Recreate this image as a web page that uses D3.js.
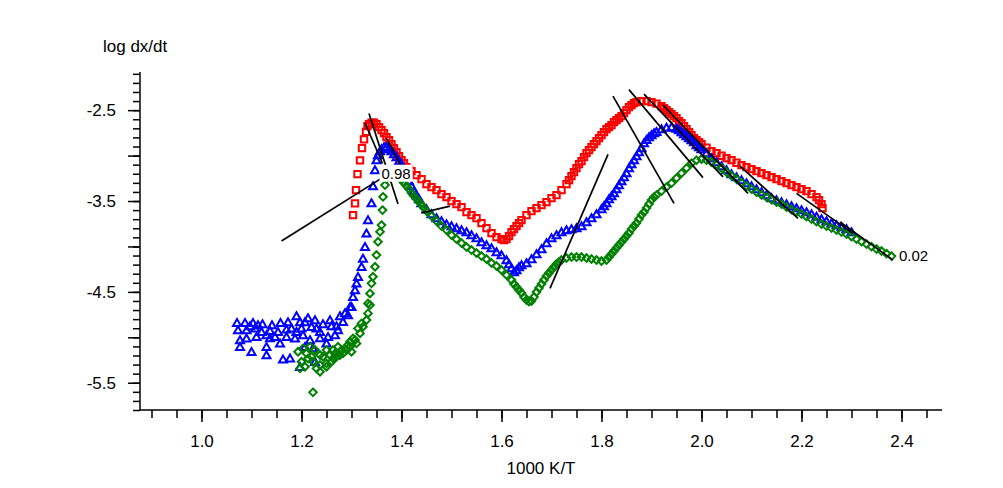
<!DOCTYPE html>
<html><head><meta charset="utf-8">
<script src="https://cdn.jsdelivr.net/npm/d3@7"></script>
<style>body{margin:0;background:#fff}svg{display:block}text{font-family:"Liberation Sans",Arial,sans-serif;fill:#000}</style>
</head><body>
<svg id="c" width="1003" height="488"></svg>
<script>
// ---- data (x = 1000 K/T, y = log dx/dt) ----
const redPoints = [[1.303,-3.655],[1.307,-3.526],[1.309,-3.380],[1.312,-3.204],[1.317,-3.053],[1.321,-2.918],[1.325,-2.822],[1.329,-2.739],[1.332,-2.676],[1.335,-2.654],[1.34,-2.638],[1.345,-2.638],[1.35,-2.654],[1.355,-2.687],[1.36,-2.720],[1.365,-2.753],[1.37,-2.797],[1.375,-2.830],[1.38,-2.874],[1.385,-2.918],[1.39,-2.962],[1.395,-3.006],[1.40,-3.050],[1.405,-3.083],[1.41,-3.127],[1.415,-3.149],[1.42,-3.171],[1.43,-3.215],[1.44,-3.259],[1.45,-3.314],[1.46,-3.347],[1.47,-3.380],[1.48,-3.424],[1.49,-3.457],[1.50,-3.501],[1.51,-3.534],[1.52,-3.567],[1.53,-3.622],[1.54,-3.655],[1.55,-3.688],[1.56,-3.743],[1.57,-3.798],[1.58,-3.853],[1.59,-3.897],[1.60,-3.919],[1.605,-3.930],[1.61,-3.919],[1.615,-3.886],[1.62,-3.842],[1.625,-3.809],[1.63,-3.776],[1.635,-3.743],[1.64,-3.710],[1.65,-3.655],[1.66,-3.611],[1.67,-3.578],[1.68,-3.545],[1.69,-3.512],[1.70,-3.468],[1.71,-3.435],[1.72,-3.380],[1.73,-3.314],[1.735,-3.270],[1.74,-3.226],[1.745,-3.182],[1.75,-3.138],[1.755,-3.094],[1.76,-3.061],[1.765,-3.017],[1.77,-2.973],[1.775,-2.940],[1.78,-2.907],[1.785,-2.874],[1.79,-2.841],[1.795,-2.808],[1.80,-2.775],[1.805,-2.742],[1.81,-2.709],[1.815,-2.687],[1.82,-2.665],[1.825,-2.632],[1.83,-2.610],[1.835,-2.588],[1.84,-2.566],[1.845,-2.533],[1.85,-2.500],[1.855,-2.467],[1.86,-2.445],[1.865,-2.423],[1.87,-2.412],[1.88,-2.401],[1.89,-2.401],[1.90,-2.412],[1.91,-2.428],[1.92,-2.456],[1.925,-2.478],[1.93,-2.500],[1.935,-2.522],[1.94,-2.544],[1.945,-2.566],[1.95,-2.588],[1.955,-2.621],[1.96,-2.643],[1.965,-2.676],[1.97,-2.709],[1.975,-2.742],[1.98,-2.775],[1.985,-2.808],[1.99,-2.830],[1.995,-2.852],[2.00,-2.874],[2.01,-2.913],[2.02,-2.951],[2.03,-2.973],[2.04,-3.001],[2.05,-3.028],[2.06,-3.050],[2.07,-3.078],[2.08,-3.105],[2.09,-3.127],[2.10,-3.149],[2.11,-3.171],[2.12,-3.193],[2.13,-3.215],[2.14,-3.237],[2.15,-3.259],[2.16,-3.281],[2.17,-3.303],[2.18,-3.325],[2.19,-3.347],[2.20,-3.369],[2.21,-3.391],[2.22,-3.424],[2.23,-3.457],[2.235,-3.490],[2.24,-3.534],[2.242,-3.578]];

const bluePoints = [[1.071,-4.840],[1.087,-4.840],[1.103,-4.840],[1.122,-4.854],[1.158,-4.840],[1.190,-4.766],[1.073,-4.920],[1.090,-4.920],[1.107,-4.902],[1.120,-4.939],[1.137,-4.928],[1.153,-4.939],[1.170,-4.913],[1.180,-4.902],[1.200,-4.902],[1.220,-4.884],[1.230,-4.902],[1.243,-4.854],[1.260,-4.876],[1.270,-4.876],[1.277,-4.766],[1.283,-4.829],[1.293,-4.755],[1.300,-4.664],[1.077,-5.030],[1.090,-5.012],[1.110,-4.994],[1.130,-4.975],[1.147,-4.994],[1.170,-4.994],[1.187,-5.012],[1.203,-4.975],[1.217,-5.030],[1.237,-4.939],[1.253,-4.994],[1.267,-4.975],[1.077,-5.104],[1.100,-5.159],[1.130,-5.104],[1.130,-5.195],[1.157,-5.067],[1.163,-5.243],[1.177,-5.232],[1.250,-5.067],[1.207,-5.104],[1.197,-5.324],[1.227,-5.269],[1.190,-4.939],[1.097,-4.876],[1.113,-4.865],[1.141,-4.865],[1.173,-4.832],[1.207,-4.832],[1.227,-4.810],[1.257,-4.810],[1.137,-5.008],[1.237,-5.008],[1.223,-5.118],[1.273,-4.920],[1.197,-4.832],[1.213,-4.788],
[1.287,-4.733],[1.297,-4.664],[1.303,-4.554],[1.307,-4.480],[1.310,-4.406],[1.313,-4.334],[1.320,-4.224],[1.323,-4.132],[1.327,-4.004],[1.330,-3.856],[1.333,-3.710],[1.340,-3.523],[1.343,-3.336],[1.347,-3.160],[1.350,-3.050],[1.353,-2.995],[1.357,-2.951],
[1.36,-2.929],[1.365,-2.907],[1.37,-2.907],[1.375,-2.929],[1.38,-2.951],[1.385,-2.984],[1.39,-3.017],[1.395,-3.061],[1.40,-3.094],[1.405,-3.149],[1.41,-3.215],[1.415,-3.281],[1.42,-3.336],[1.425,-3.391],[1.43,-3.435],[1.435,-3.479],[1.44,-3.523],[1.45,-3.589],[1.46,-3.644],[1.47,-3.688],[1.48,-3.721],[1.49,-3.754],[1.50,-3.776],[1.51,-3.798],[1.52,-3.820],[1.53,-3.842],[1.54,-3.875],[1.55,-3.908],[1.56,-3.952],[1.57,-3.985],[1.58,-4.018],[1.59,-4.062],[1.60,-4.095],[1.61,-4.150],[1.615,-4.194],[1.62,-4.238],[1.625,-4.282],[1.63,-4.260],[1.635,-4.227],[1.64,-4.205],[1.65,-4.183],[1.66,-4.139],[1.67,-4.084],[1.68,-4.029],[1.69,-3.963],[1.70,-3.908],[1.71,-3.875],[1.72,-3.842],[1.73,-3.820],[1.74,-3.809],[1.75,-3.798],[1.76,-3.776],[1.77,-3.732],[1.78,-3.688],[1.79,-3.644],[1.80,-3.589],[1.805,-3.556],[1.81,-3.523],[1.815,-3.479],[1.82,-3.446],[1.825,-3.413],[1.83,-3.369],[1.835,-3.325],[1.84,-3.281],[1.845,-3.237],[1.85,-3.193],[1.855,-3.138],[1.86,-3.094],[1.865,-3.050],[1.87,-3.006],[1.875,-2.962],[1.88,-2.918],[1.885,-2.863],[1.89,-2.825],[1.895,-2.797],[1.90,-2.775],[1.905,-2.753],[1.91,-2.737],[1.92,-2.709],[1.93,-2.692],[1.94,-2.687],[1.95,-2.703],[1.955,-2.720],[1.96,-2.742],[1.965,-2.764],[1.97,-2.786],[1.975,-2.808],[1.98,-2.830],[1.985,-2.852],[1.99,-2.885],[1.995,-2.907],[2.00,-2.929],[2.01,-2.973],[2.02,-3.028],[2.03,-3.072],[2.04,-3.116],[2.05,-3.160],[2.06,-3.204],[2.07,-3.237],[2.08,-3.270],[2.09,-3.303],[2.10,-3.336],[2.11,-3.369],[2.12,-3.402],[2.13,-3.435],[2.14,-3.468],[2.15,-3.490],[2.16,-3.512],[2.17,-3.534],[2.18,-3.556],[2.19,-3.578],[2.20,-3.600],[2.21,-3.622],[2.22,-3.644],[2.23,-3.672],[2.24,-3.699],[2.25,-3.721],[2.26,-3.743],[2.27,-3.765],[2.28,-3.787],[2.29,-3.809],[2.30,-3.842]];

const greenPoints = [[1.223,-5.606],[1.193,-5.159],[1.203,-5.122],[1.217,-5.104],[1.227,-5.140],[1.237,-5.195],[1.250,-5.140],[1.263,-5.140],[1.273,-5.104],[1.287,-5.122],[1.297,-5.049],[1.307,-5.030],[1.317,-4.957],[1.323,-4.884],[1.330,-4.810],[1.333,-4.737],[1.337,-4.645],[1.200,-5.269],[1.213,-5.232],[1.223,-5.269],[1.237,-5.305],[1.250,-5.287],[1.263,-5.232],[1.277,-5.195],[1.290,-5.140],[1.300,-5.159],[1.197,-5.342],[1.207,-5.324],[1.230,-5.342],[1.237,-5.379],[1.250,-5.324],[1.260,-5.269],[1.270,-5.214],[1.283,-5.177],[1.297,-5.104],[1.310,-5.067],[1.210,-5.177],[1.220,-5.214],[1.243,-5.214],[1.257,-5.195],[1.267,-5.177],[1.280,-5.140],[1.293,-5.085],[1.303,-5.012],[1.313,-4.902],[1.320,-4.847],
[1.333,-4.627],[1.337,-4.517],[1.340,-4.406],[1.343,-4.334],[1.347,-4.224],[1.350,-4.095],[1.353,-3.949],[1.357,-3.839],[1.360,-3.765],[1.362,-3.600],[1.363,-3.454],[1.367,-3.325],
[1.37,-3.259],[1.375,-3.226],[1.38,-3.215],[1.385,-3.204],[1.39,-3.215],[1.395,-3.237],[1.40,-3.270],[1.405,-3.303],[1.41,-3.336],[1.415,-3.369],[1.42,-3.413],[1.425,-3.446],[1.43,-3.479],[1.435,-3.512],[1.44,-3.545],[1.445,-3.578],[1.45,-3.611],[1.46,-3.666],[1.47,-3.721],[1.48,-3.776],[1.49,-3.820],[1.50,-3.875],[1.51,-3.919],[1.52,-3.963],[1.53,-4.007],[1.54,-4.040],[1.55,-4.073],[1.56,-4.106],[1.57,-4.139],[1.58,-4.183],[1.59,-4.216],[1.60,-4.260],[1.61,-4.315],[1.62,-4.370],[1.625,-4.414],[1.63,-4.447],[1.635,-4.480],[1.64,-4.513],[1.645,-4.557],[1.65,-4.590],[1.655,-4.607],[1.66,-4.601],[1.665,-4.557],[1.67,-4.502],[1.675,-4.458],[1.68,-4.414],[1.685,-4.370],[1.69,-4.326],[1.695,-4.293],[1.70,-4.260],[1.705,-4.227],[1.71,-4.194],[1.715,-4.172],[1.72,-4.150],[1.73,-4.128],[1.74,-4.117],[1.75,-4.117],[1.76,-4.117],[1.77,-4.128],[1.78,-4.139],[1.79,-4.150],[1.80,-4.161],[1.81,-4.150],[1.815,-4.117],[1.82,-4.084],[1.825,-4.051],[1.83,-4.018],[1.835,-3.985],[1.84,-3.952],[1.845,-3.919],[1.85,-3.886],[1.855,-3.853],[1.86,-3.809],[1.865,-3.776],[1.87,-3.743],[1.875,-3.699],[1.88,-3.655],[1.885,-3.622],[1.89,-3.578],[1.895,-3.534],[1.90,-3.490],[1.905,-3.457],[1.91,-3.435],[1.92,-3.391],[1.93,-3.347],[1.94,-3.303],[1.95,-3.248],[1.96,-3.193],[1.97,-3.138],[1.98,-3.083],[1.99,-3.050],[2.00,-3.039],[2.01,-3.050],[2.02,-3.072],[2.03,-3.100],[2.04,-3.138],[2.05,-3.182],[2.06,-3.221],[2.07,-3.259],[2.08,-3.298],[2.09,-3.336],[2.10,-3.369],[2.11,-3.402],[2.12,-3.430],[2.13,-3.457],[2.14,-3.485],[2.15,-3.512],[2.16,-3.534],[2.17,-3.567],[2.18,-3.595],[2.19,-3.622],[2.20,-3.644],[2.21,-3.672],[2.22,-3.699],[2.23,-3.727],[2.24,-3.754],[2.25,-3.776],[2.26,-3.798],[2.27,-3.820],[2.28,-3.842],[2.29,-3.864],[2.30,-3.892],[2.31,-3.919],[2.32,-3.947],[2.33,-3.974],[2.34,-4.002],[2.35,-4.029],[2.36,-4.051],[2.37,-4.079],[2.38,-4.106]];

// tangent segments [x1, y1, x2, y2]
const tangentLines = [
  [1.160,-3.941,1.370,-3.215],
  [1.327,-2.640,1.362,-3.087],
  [1.335,-2.536,1.393,-3.534],
  [1.370,-2.811,1.400,-3.124],
  [1.440,-3.630,1.497,-3.556],
  [1.697,-4.462,1.813,-2.987],
  [1.823,-2.346,1.945,-3.526],
  [1.855,-2.274,2.003,-3.243],
  [1.885,-2.324,2.043,-3.234],
  [1.923,-2.445,2.093,-3.416],
  [2.077,-3.116,2.193,-3.691],
  [2.190,-3.416,2.303,-3.856],
  [2.277,-3.729,2.383,-4.150]
];
const annotations = [
  {x:1.36, y:-3.255, text:"0.98", box:true},
  {x:2.395, y:-4.155, text:"0.02", box:false}
];

const xTickValues = [1.0,1.2,1.4,1.6,1.8,2.0,2.2,2.4];
const xTickLabels = ["1.0","1.2","1.4","1.6","1.8","2.0","2.2","2.4"];
const yTickValues = [-2.5,-3.5,-4.5,-5.5];
const yTickLabels = ["-2.5","-3.5","-4.5","-5.5"];
const xTitle = "1000 K/T";
const yTitle = "log dx/dt";

// ---- drawing ----
const svg = d3.select("#c");
const x = d3.scaleLinear().domain([0.877, 2.481]).range([140, 942]);
const y = d3.scaleLinear().domain([-5.8, -2.08]).range([410, 72]);

const xMinor = d3.range(0.9, 2.4501, 0.05).map(v => +v.toFixed(2));
const yMinor = d3.range(-5.8, -2.0999, 0.1).map(v => +v.toFixed(1));
const yMid = d3.range(-5.5, -2.4999, 0.5).map(v => +v.toFixed(1));

const fs = "17px";
// x axis
const gx = svg.append("g").attr("transform","translate(0,410)");
gx.call(d3.axisBottom(x).tickValues(xMinor).tickSize(8).tickFormat(""));
gx.call(g => g.selectAll(".tick line").attr("stroke-width",1.5));
const gx2 = svg.append("g").attr("transform","translate(0,410)");
gx2.call(d3.axisBottom(x).tickValues(xTickValues).tickSize(12).tickPadding(13)
  .tickFormat((d,i) => xTickLabels[i]));
gx2.selectAll(".tick line").attr("stroke-width",1.5);
gx2.selectAll("text").style("font-size",fs).attr("font-family",null);
gx2.select(".domain").remove();
gx.select(".domain").attr("d","M140,0H942").attr("stroke-width",1.5);

// y axis
const gy = svg.append("g").attr("transform","translate(140,0)");
gy.call(d3.axisLeft(y).tickValues(yMinor).tickSize(7).tickFormat(""));
gy.selectAll(".tick line").attr("stroke-width",1.5);
gy.select(".domain").attr("d","M0,72V410").attr("stroke-width",1.5);
const gy2 = svg.append("g").attr("transform","translate(140,0)");
gy2.call(d3.axisLeft(y).tickValues(yMid).tickSize(12).tickPadding(12)
  .tickFormat(d => { const i = yTickValues.indexOf(d); return i >= 0 ? yTickLabels[i] : ""; }));
gy2.select(".domain").remove();
gy2.selectAll(".tick line").attr("stroke-width",1.5);
gy2.selectAll("text").style("font-size",fs).attr("font-family",null);

svg.append("text").attr("x",103).attr("y",52).style("font-size",fs).text(yTitle);
svg.append("text").attr("x",541).attr("y",474).attr("text-anchor","middle").style("font-size",fs).text(xTitle);

// markers
const sq = "M-3.2,-3.2H3.2V3.2H-3.2Z";
const tri = "M0,-3.8L4,3.2L-4,3.2Z";
const dia = "M0,-3.8L3.8,0L0,3.8L-3.8,0Z";
function series(data, path, color){
  svg.append("g").selectAll("path").data(data).join("path")
    .attr("d", path)
    .attr("transform", d => `translate(${x(d[0])},${y(d[1])})`)
    .attr("fill","none").attr("stroke",color).attr("stroke-width",2);
}
series(redPoints, sq, "#ff0000");
series(bluePoints, tri, "#0000ff");
series(greenPoints, dia, "#008000");

svg.append("g").selectAll("line").data(tangentLines).join("line")
  .attr("x1", d => x(d[0])).attr("y1", d => y(d[1]))
  .attr("x2", d => x(d[2])).attr("y2", d => y(d[3]))
  .attr("stroke","#000").attr("stroke-width",1.7);

annotations.forEach(a => {
  const t = svg.append("text").attr("x", x(a.x)).attr("y", y(a.y))
    .style("font-size","15px").text(a.text);
  if (a.box) {
    const b = t.node().getBBox();
    svg.insert("rect", () => t.node()).attr("x", b.x-2).attr("y", b.y).attr("width", b.width+4).attr("height", b.height)
      .attr("fill","#fff");
  }
});
</script>
</body></html>
